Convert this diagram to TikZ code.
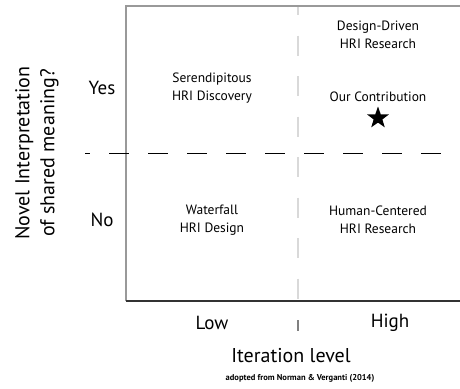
\documentclass[tikz,border=0pt]{standalone}
\usepackage{fontspec}
\setmainfont{PT Sans}
\usetikzlibrary{shapes.geometric}
\colorlet{axis edge}{black!40}
\colorlet{base edge}{black!80}
\colorlet{grid edge}{black!15}
\colorlet{tick edge}{black!50}
\tikzstyle{axis line} = [draw=axis edge, line width=1.8pt]
\tikzstyle{base line} = [draw=base edge, line width=1.3pt]
\tikzstyle{grid line} = [draw=grid edge, line width=1.4pt, dash pattern=on 20pt off 20.5pt, dash phase=11pt]
\tikzstyle{split line} = [draw=black, line width=1pt, dash pattern=on 20pt off 19pt, dash phase=15pt]
\tikzstyle{quadrant} = [align=center, font=\fontsize{13.5}{17.5}\selectfont, inner sep=0pt]
\tikzstyle{answer} = [font=\fontsize{19}{22}\selectfont, inner sep=0pt]
\tikzstyle{title} = [align=center, font=\fontsize{20}{25}\selectfont, inner sep=0pt]

\begin{document}
\begin{tikzpicture}[x=1pt, y=-1pt]
    \useasboundingbox (0,0) rectangle (460,388);

    % corners of the frame and the splits
    \coordinate (tl) at (126,6);
    \coordinate (tr) at (460,6);
    \coordinate (bl) at (126,301);
    \coordinate (br) at (460,301);
    \coordinate (mt) at (298,6);
    \coordinate (mb) at (298,301);
    \coordinate (ml) at (85,153);
    \coordinate (mr) at (460,153);
    \coordinate (tick a) at (298,320);
    \coordinate (tick b) at (298,331);

    % low / high split
    \path[grid line] (mt) -- (mb);
    \path[draw=tick edge, line width=1.4pt] (tick a) -- (tick b);

    % the axes
    \path[axis line] (bl) -- (tl) -- (tr);
    \path[base line] (bl) -- (br);

    % yes / no split
    \path[split line] (ml) -- (mr);

    % the four fields
    \foreach \pos/\name/\text in {{(212,88)/serendip/Serendipitous\\HRI Discovery},
                                  {(378,35)/designdriven/Design-Driven\\HRI Research},
                                  {(212,220)/waterfall/Waterfall\\HRI Design},
                                  {(378,220)/humancentered/Human-Centered\\HRI Research}}
      \node[quadrant] (\name) at \pos {\text};

    \node[quadrant] (ours) at (378,97) {Our Contribution};
    \node[star, star points=5, star point ratio=2.5, fill=black, inner sep=0pt,
          minimum size=23pt] (star) at (378,118) {};

    % answers on both axes
    \foreach \pos/\name/\text in {{(102,88)/yes/Yes}, {(102,220)/no/No},
                                  {(212,323)/low/Low}, {(390,323)/high/High}}
      \node[answer] (\name) at \pos {\text};

    % axis titles
    \node[title, rotate=90] (ytitle) at (37,153) {Novel Interpretation\\of shared meaning?};
    \node[title] (xtitle) at (291,356) {Iteration level};
    \node[font=\fontsize{8.5}{10}\selectfont\bfseries, inner sep=0pt] (source) at (300,378)
      {adopted from Norman \& Verganti (2014)};
\end{tikzpicture}
\end{document}
